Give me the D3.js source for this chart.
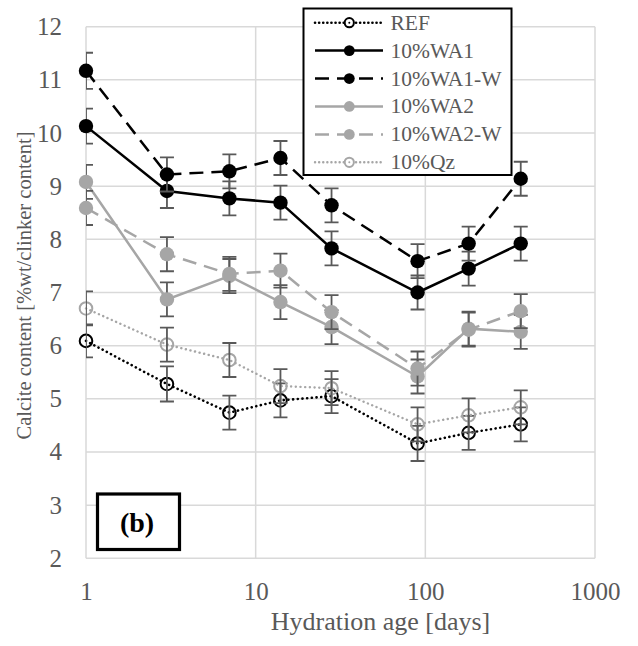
<!DOCTYPE html>
<html>
<head>
<meta charset="utf-8">
<script src="https://cdn.jsdelivr.net/npm/d3@7"></script>
<style>
  html, body { margin: 0; padding: 0; background: #fff; }
  svg { display: block; }
</style>
</head>
<body>
<div id="chart"></div>
<script>
// hydration ages (days)
const ages = [1, 3, 7, 14, 28, 90, 180, 365];

// calcite content per mix
const refVals  = [6.09, 5.28, 4.74, 4.97, 5.05, 4.16, 4.36, 4.52];
const wa1Vals  = [10.13, 8.91, 8.77, 8.69, 7.83, 7.00, 7.45, 7.92];
const wa1wVals = [11.17, 9.22, 9.28, 9.53, 8.64, 7.59, 7.92, 9.14];
const wa2Vals  = [9.08, 6.87, 7.31, 6.82, 6.35, 5.42, 6.32, 6.26];
const wa2wVals = [8.59, 7.72, 7.35, 7.41, 6.63, 5.57, 6.30, 6.65];
const qzVals   = [6.70, 6.02, 5.73, 5.24, 5.20, 4.52, 4.69, 4.84];

// error bar half-widths
const refErr  = [0.31, 0.33, 0.32, 0.32, 0.32, 0.33, 0.32, 0.32];
const wa1Err  = [0.33, 0.32, 0.32, 0.32, 0.32, 0.32, 0.32, 0.32];
const wa1wErr = [0.34, 0.32, 0.32, 0.32, 0.32, 0.32, 0.32, 0.32];
const wa2Err  = [0.32, 0.32, 0.32, 0.32, 0.32, 0.32, 0.32, 0.32];
const wa2wErr = [0.32, 0.32, 0.32, 0.32, 0.32, 0.32, 0.32, 0.32];
const qzErr   = [0.32, 0.32, 0.32, 0.32, 0.32, 0.32, 0.32, 0.32];

const seriesNames = ["REF", "10%WA1", "10%WA1-W", "10%WA2", "10%WA2-W", "10%Qz"];

const xTicks = [1, 10, 100, 1000];
const yTicks = [2, 3, 4, 5, 6, 7, 8, 9, 10, 11, 12];

const BLACK = "#000000", GREY = "#a6a6a6", TXT = "#595959";

const series = [
  { name: seriesNames[0], vals: refVals,  err: refErr,  color: BLACK, dash: "0.1 4.6", width: 2.6, open: true },
  { name: seriesNames[1], vals: wa1Vals,  err: wa1Err,  color: BLACK, dash: null,      width: 2.5, open: false },
  { name: seriesNames[2], vals: wa1wVals, err: wa1wErr, color: BLACK, dash: "14 8",    width: 2.5, open: false },
  { name: seriesNames[3], vals: wa2Vals,  err: wa2Err,  color: GREY,  dash: null,      width: 2.5, open: false },
  { name: seriesNames[4], vals: wa2wVals, err: wa2wErr, color: GREY,  dash: "14 8",    width: 2.5, open: false },
  { name: seriesNames[5], vals: qzVals,   err: qzErr,   color: GREY,  dash: "0.1 4.6", width: 2.4, open: true }
];

const W = 638, H = 646;
const plot = { left: 86, right: 595, top: 26.7, bottom: 558.3 };
const serif = "'Liberation Serif', 'Times New Roman', serif";

const svg = d3.select("#chart").append("svg")
  .attr("width", W).attr("height", H);

const x = d3.scaleLog().domain([1, 1000]).range([plot.left, plot.right]);
const y = d3.scaleLinear().domain([2, 12]).range([plot.bottom, plot.top]);

// clip so error caps at day 1 stop at the axis
svg.append("defs").append("clipPath").attr("id", "plotClip")
  .append("rect")
  .attr("x", plot.left).attr("y", 0)
  .attr("width", plot.right - plot.left).attr("height", H);

// ---- grid ----
const grid = svg.append("g").attr("stroke", "#d9d9d9").attr("stroke-width", 1.5);
grid.selectAll(".hg").data(yTicks).join("line")
  .attr("x1", plot.left).attr("x2", plot.right)
  .attr("y1", d => y(d)).attr("y2", d => y(d));
grid.selectAll(".vg").data(xTicks).join("line")
  .attr("y1", plot.top).attr("y2", plot.bottom)
  .attr("x1", d => x(d)).attr("x2", d => x(d));

// ---- axes (labels only, Excel style) ----
const yAxis = svg.append("g")
  .attr("transform", `translate(${plot.left - 6},0)`)
  .call(d3.axisLeft(y).tickValues(yTicks).tickSize(0).tickPadding(18).tickFormat(d3.format("d")));
yAxis.select(".domain").remove();
yAxis.selectAll("text")
  .attr("fill", TXT).style("font-family", serif).style("font-size", "25px");

const xAxis = svg.append("g")
  .attr("transform", `translate(0,${plot.bottom})`)
  .call(d3.axisBottom(x).tickValues(xTicks).tickSize(0).tickPadding(24).tickFormat(d3.format("d")));
xAxis.select(".domain").remove();
xAxis.selectAll("text")
  .attr("fill", TXT).style("font-family", serif).style("font-size", "25px");

svg.append("text")
  .attr("x", 380.5).attr("y", 630)
  .attr("text-anchor", "middle").attr("fill", TXT)
  .style("font-family", serif).style("font-size", "26px")
  .text("Hydration age [days]");

svg.append("text")
  .attr("transform", `translate(31,${(plot.top + plot.bottom) / 2 - 7}) rotate(-90)`)
  .attr("text-anchor", "middle").attr("fill", TXT)
  .style("font-family", serif).style("font-size", "20.5px")
  .text("Calcite content [%wt/clinker content]");

// ---- series ----
const line = d3.line().x(d => x(d.age)).y(d => y(d.v));

series.forEach(s => {
  const pts = ages.map((a, i) => ({ age: a, v: s.vals[i], e: s.err[i] }));
  const g = svg.append("g");

  // error bars
  const eb = g.append("g").attr("clip-path", "url(#plotClip)")
    .attr("stroke", TXT).attr("stroke-width", 1.8).attr("fill", "none");
  eb.selectAll("path").data(pts).join("path")
    .attr("d", d => {
      const cx = x(d.age), y0 = y(d.v - d.e), y1 = y(d.v + d.e);
      return `M${cx - 7},${y0}H${cx + 7}M${cx - 7},${y1}H${cx + 7}M${cx},${y0}V${y1}`;
    });

  g.append("path").datum(pts)
    .attr("d", line)
    .attr("fill", "none")
    .attr("stroke", s.color)
    .attr("stroke-width", s.width)
    .attr("stroke-linecap", s.dash && s.dash.startsWith("0.1") ? "round" : "butt")
    .attr("stroke-dasharray", s.dash);

  g.selectAll("circle").data(pts).join("circle")
    .attr("cx", d => x(d.age)).attr("cy", d => y(d.v))
    .attr("r", s.open ? 6.3 : 7.2)
    .attr("fill", s.open ? "none" : s.color)
    .attr("stroke", s.color)
    .attr("stroke-width", s.open ? 2 : 0);

  // error bars of open markers show through
  if (s.open) eb.raise();
});

// ---- legend ----
const leg = svg.append("g");
leg.append("rect")
  .attr("x", 303.5).attr("y", 8.5).attr("width", 208).attr("height", 166.5)
  .attr("fill", "#fff").attr("stroke", BLACK).attr("stroke-width", 2);

const rowY = d3.scaleLinear().domain([0, series.length - 1]).range([22.7, 162.3]);
series.forEach((s, i) => {
  const yy = rowY(i);
  const dotted = s.dash && s.dash.startsWith("0.1");
  leg.append("line")
    .attr("x1", 315).attr("x2", 383).attr("y1", yy).attr("y2", yy)
    .attr("stroke", s.color).attr("stroke-width", s.width)
    .attr("stroke-linecap", dotted ? "round" : "butt")
    .attr("stroke-dasharray", s.dash ? (dotted ? "0.1 4" : "14 8") : null);
  leg.append("circle")
    .attr("cx", 349.3).attr("cy", yy)
    .attr("r", s.open ? 4.6 : 5.4)
    .attr("fill", s.open ? "#fff" : s.color)
    .attr("stroke", s.color).attr("stroke-width", s.open ? 2 : 0);
  if (s.open) {
    leg.append("circle").attr("cx", 349.3).attr("cy", yy).attr("r", 1).attr("fill", s.color);
  }
  leg.append("text")
    .attr("x", 390.5).attr("y", yy + 7)
    .attr("fill", TXT)
    .style("font-family", serif).style("font-size", "21.5px")
    .text(s.name);
});

// ---- panel label ----
svg.append("rect")
  .attr("x", 97.5).attr("y", 494).attr("width", 82).attr("height", 55.5)
  .attr("fill", "#fff").attr("stroke", BLACK).attr("stroke-width", 3.2);
svg.append("text")
  .attr("x", 137).attr("y", 532)
  .attr("text-anchor", "middle").attr("fill", BLACK)
  .style("font-family", serif).style("font-size", "28px").style("font-weight", "bold")
  .text("(b)");
</script>
</body>
</html>
